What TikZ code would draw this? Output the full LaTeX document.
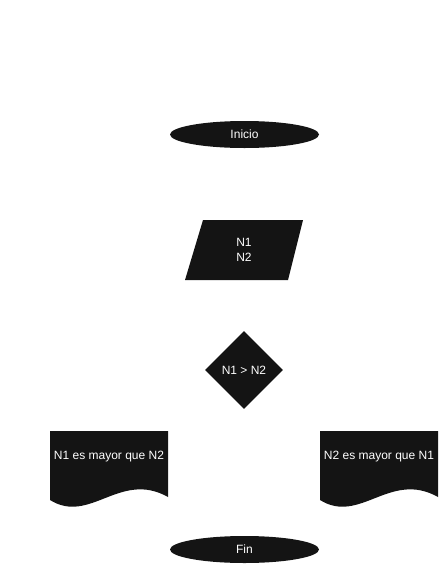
\documentclass[tikz,border=0pt]{standalone}
\usepackage{fontspec}
\setmainfont{Liberation Sans}
\usetikzlibrary{shapes.geometric}
\definecolor{shapefill}{HTML}{141414}
\tikzset{
  box/.style={fill=shapefill, draw=none},
  lbl/.style={text=white, font=\fontsize{12}{15}\selectfont, align=center, inner sep=0pt},
  term/.style={box, ellipse, minimum width=149pt, minimum height=27pt, inner sep=0pt, lbl},
  decision/.style={box, diamond, minimum width=78pt, minimum height=78pt, inner sep=0pt, lbl}
}
\begin{document}
\begin{tikzpicture}[x=1pt,y=-1pt]
\useasboundingbox (0,0) rectangle (440,571);
% start / end
\node[term] (inicio) at (244.5,134.5) {Inicio};
\node[term] (fin) at (244.5,549.5) {Fin};
% input parallelogram
\fill[shapefill] (203,220) -- (303,220) -- (288,280) -- (185,280) -- cycle;
\node[lbl] (entrada) at (244,250) {N1\\N2};
% decision
\node[decision] (cond) at (244,370) {N1 > N2};
% documents
\fill[shapefill] (50,431) -- (168,431) -- (168,497) .. controls (120,470) and (90,525) .. (50,500) -- cycle;
\node[lbl] (salida1) at (109,457) {N1 es mayor que N2};
\fill[shapefill] (320,431) -- (438,431) -- (438,497) .. controls (390,470) and (360,525) .. (320,500) -- cycle;
\node[lbl] (salida2) at (379,457) {N2 es mayor que N1};
\end{tikzpicture}
\end{document}
